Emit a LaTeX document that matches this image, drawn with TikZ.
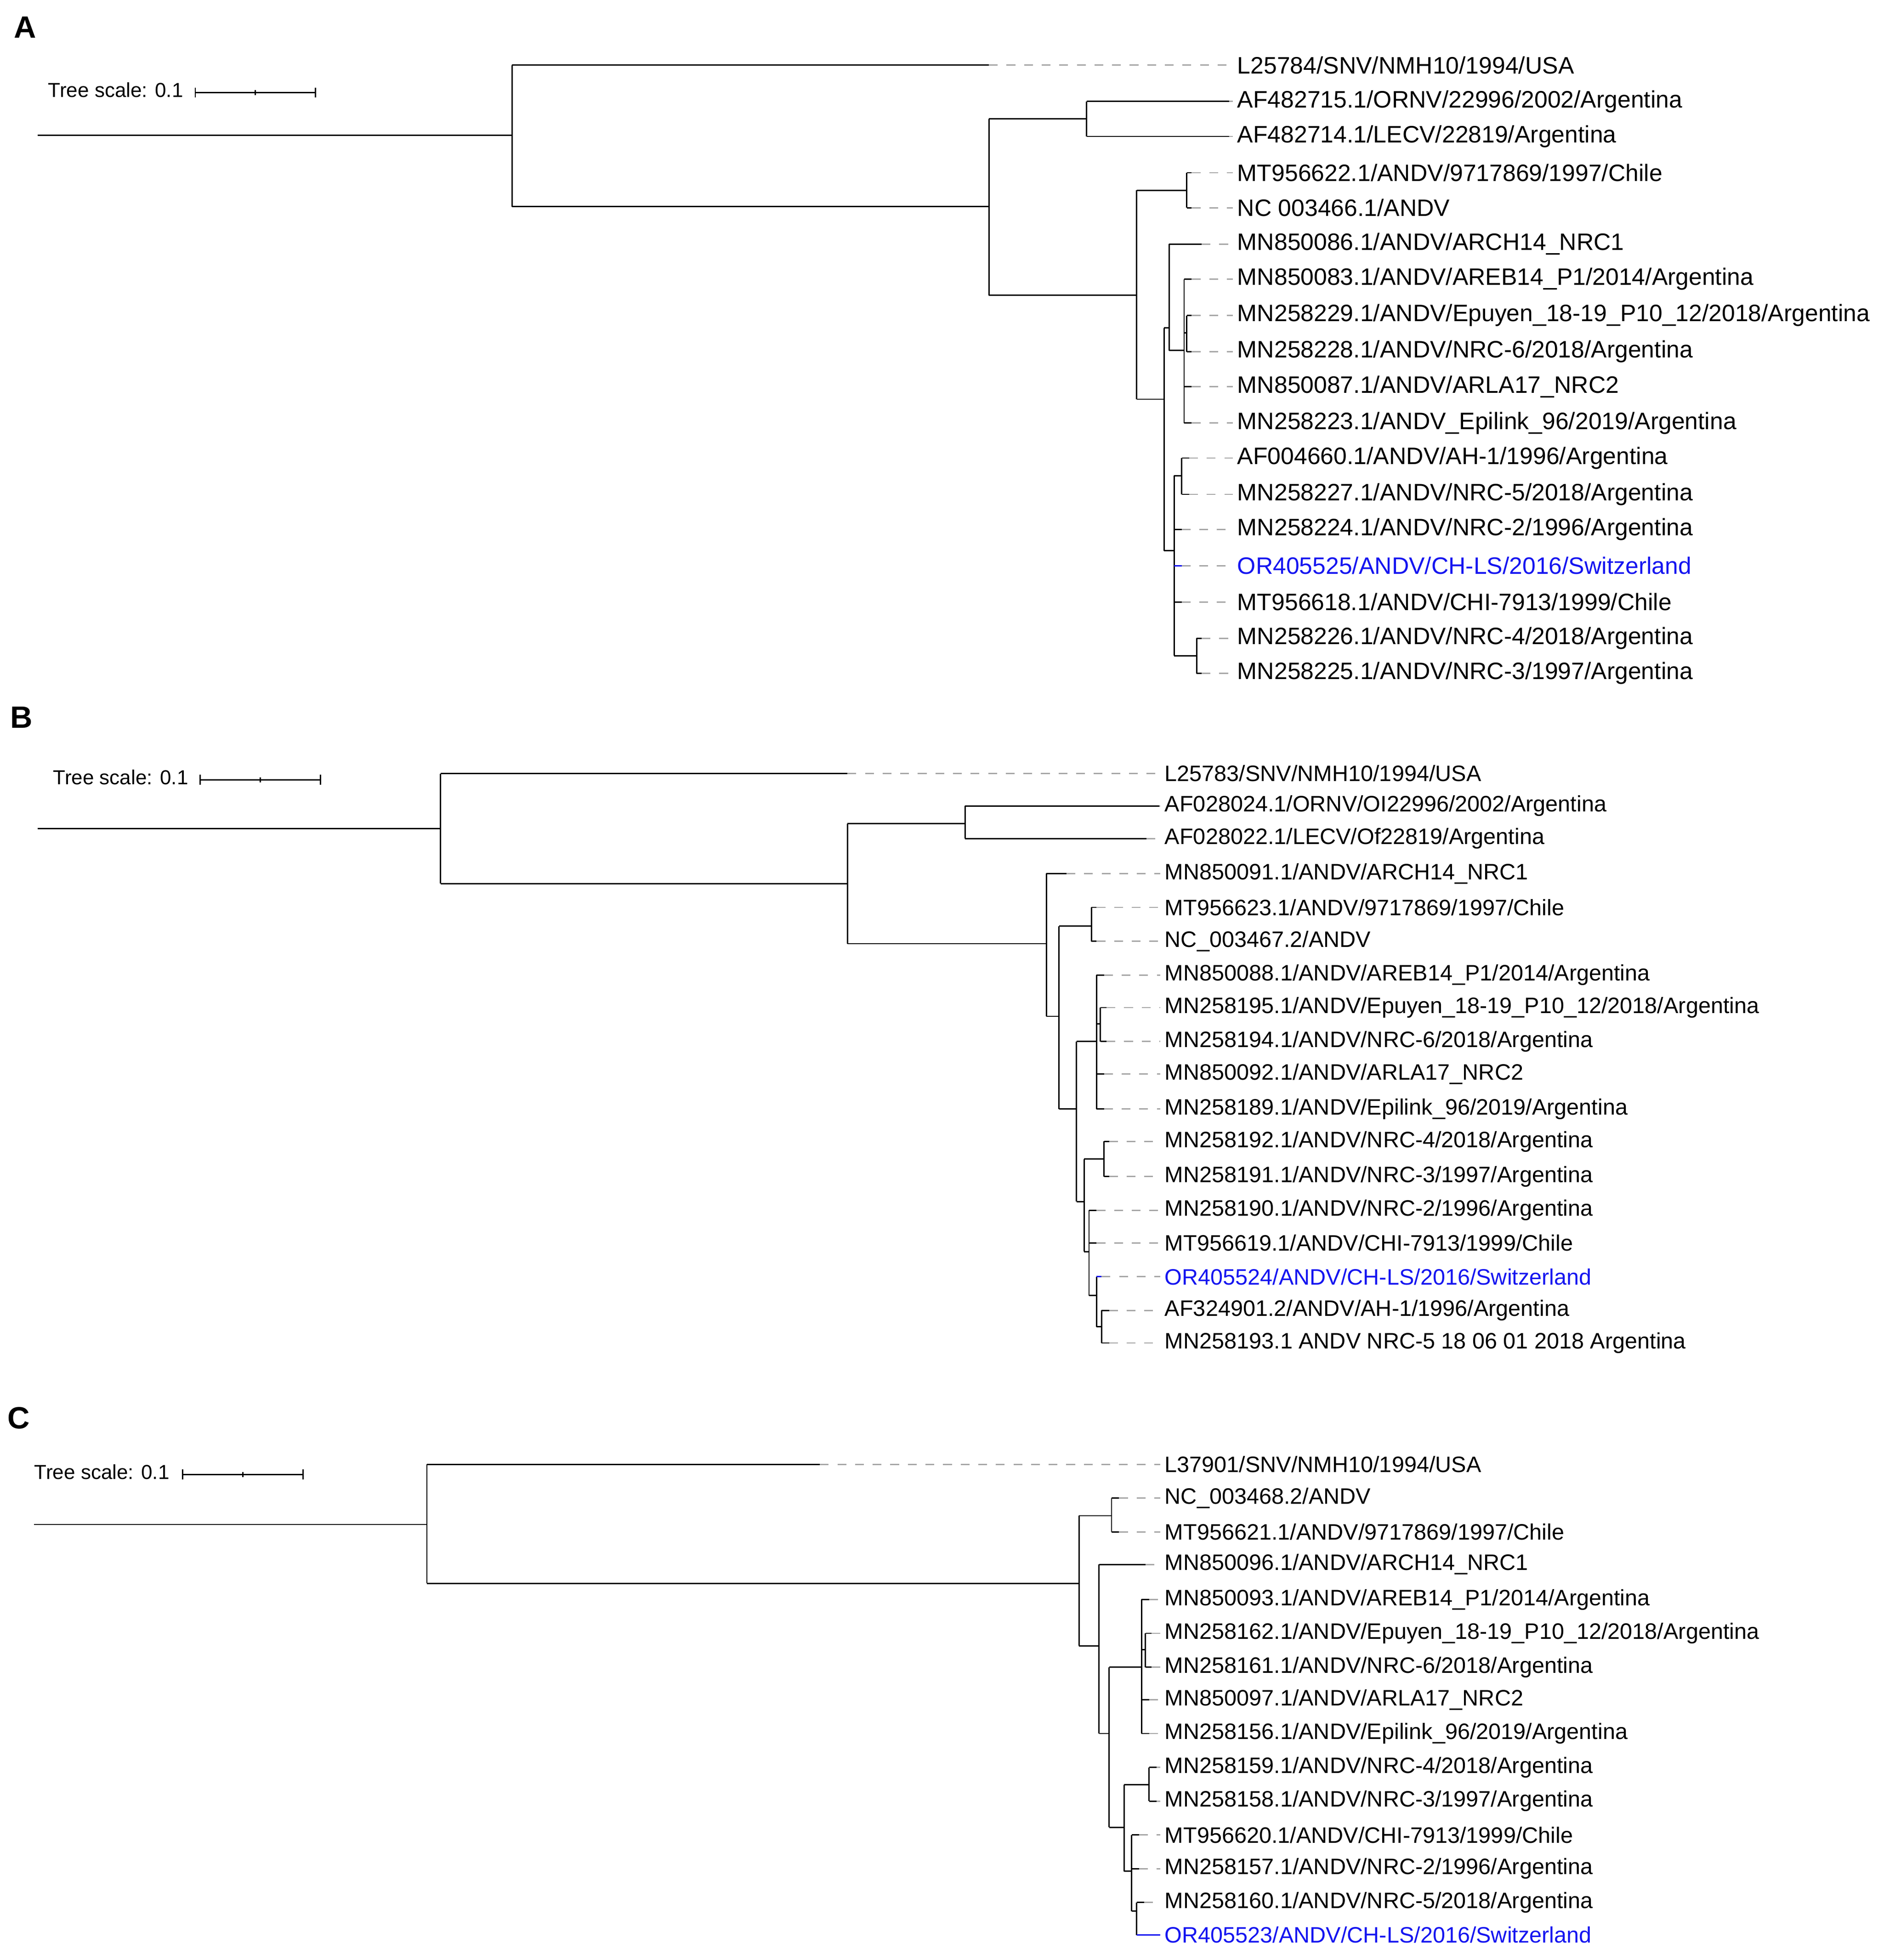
\documentclass[tikz,border=0pt]{standalone}
\usepackage{fontspec}
\setmainfont{Liberation Sans}
\definecolor{lblue}{RGB}{20,20,240}
\begin{document}
\begin{tikzpicture}[x=0.02cm,y=-0.02cm,line width=0.6pt,
  br/.style={draw=black},
  dl/.style={draw=gray!70,dashed,dash pattern=on 4pt off 4pt},
  lab/.style={anchor=west,inner sep=0pt,font=\fontsize{10.15}{12}\selectfont},
  labA/.style={anchor=west,inner sep=0pt,font=\fontsize{10.8}{12}\selectfont},
  panel/.style={anchor=center,font=\bfseries\fontsize{14}{16}\selectfont},
  scl/.style={anchor=west,inner sep=0pt,font=\fontsize{9.2}{11}\selectfont}]
\useasboundingbox (0,0) rectangle (1500,1566);
\newcommand{\lf}[7]{\draw[br,#7] (#1,#3) -- (#2,#3); \draw[dl] (#2,#3) -- (#4-3,#3);
  \node[lab,text=#7] (#6) at (#4,#3) {#5};}
\newcommand{\la}[7]{\draw[br,#7] (#1,#3) -- (#2,#3); \draw[dl] (#2,#3) -- (#4-3,#3);
  \node[labA,text=#7] (#6) at (#4,#3) {#5};}
\newcommand{\vt}[3]{\draw[br] (#1,#2) -- (#1,#3);}
\newcommand{\hz}[3]{\draw[br] (#1,#3) -- (#2,#3);}
\newcommand{\sbar}[3]{\draw[br] (#1,#3) -- (#2,#3); \draw[br] (#1,#3-4) -- (#1,#3+4); \draw[br] (#2,#3-4) -- (#2,#3+4); \draw[br] ({(#1+#2)/2},#3-2) -- ({(#1+#2)/2},#3+2);}
% ---------------- A
\node[panel] (pA) at (20,22) {A};
\node[scl] (sA) at (38,72) {Tree scale: 0.1}; \sbar{156}{252}{74}
\hz{30}{409}{108} \vt{409}{52}{165}
\la{409}{790}{52}{988}{L25784/SNV/NMH10/1994/USA}{a1}{black}
\hz{409}{790}{165} \vt{790}{95}{236}
\hz{790}{868}{95} \vt{868}{81}{109}
\la{868}{982}{81}{988}{AF482715.1/ORNV/22996/2002/Argentina}{a2}{black}
\la{868}{982}{109}{988}{AF482714.1/LECV/22819/Argentina}{a3}{black}
\hz{790}{908}{236} \vt{908}{152}{319}
\hz{908}{948}{152} \vt{948}{138}{166}
\la{948}{952}{138}{988}{MT956622.1/ANDV/9717869/1997/Chile}{a4}{black}
\la{948}{952}{166}{988}{NC 003466.1/ANDV}{a5}{black}
\hz{908}{930}{319} \vt{930}{262}{440}
\hz{930}{934}{262} \vt{934}{195}{280}
\la{934}{960}{195}{988}{MN850086.1/ANDV/ARCH14\_NRC1}{a6}{black}
\hz{934}{946}{280} \vt{946}{223}{338}
\la{946}{952}{223}{988}{MN850083.1/ANDV/AREB14\_P1/2014/Argentina}{a7}{black}
\hz{946}{948}{266} \vt{948}{252}{281}
\la{948}{952}{252}{988}{MN258229.1/ANDV/Epuyen\_18-19\_P10\_12/2018/Argentina}{a8}{black}
\la{948}{952}{281}{988}{MN258228.1/ANDV/NRC-6/2018/Argentina}{a9}{black}
\la{946}{952}{309}{988}{MN850087.1/ANDV/ARLA17\_NRC2}{a10}{black}
\la{946}{952}{338}{988}{MN258223.1/ANDV\_Epilink\_96/2019/Argentina}{a11}{black}
\hz{930}{938}{440} \vt{938}{380}{524}
\hz{938}{944}{380} \vt{944}{366}{395}
\la{944}{950}{366}{988}{AF004660.1/ANDV/AH-1/1996/Argentina}{a12}{black}
\la{944}{950}{395}{988}{MN258227.1/ANDV/NRC-5/2018/Argentina}{a13}{black}
\la{938}{944}{423}{988}{MN258224.1/ANDV/NRC-2/1996/Argentina}{a14}{black}
\la{938}{944}{452}{988}{OR405525/ANDV/CH-LS/2016/Switzerland}{a15}{lblue}
\la{938}{944}{481}{988}{MT956618.1/ANDV/CHI-7913/1999/Chile}{a16}{black}
\hz{938}{956}{524} \vt{956}{510}{538}
\la{956}{960}{510}{988}{MN258226.1/ANDV/NRC-4/2018/Argentina}{a17}{black}
\la{956}{960}{538}{988}{MN258225.1/ANDV/NRC-3/1997/Argentina}{a18}{black}
% ---------------- B
\node[panel] (pB) at (17,573) {B};
\node[scl] (sB) at (42,621) {Tree scale: 0.1}; \sbar{160}{256}{623}
\hz{30}{352}{662} \vt{352}{618}{706}
\lf{352}{677}{618}{930}{L25783/SNV/NMH10/1994/USA}{b1}{black}
\hz{352}{677}{706} \vt{677}{658}{754}
\hz{677}{771}{658} \vt{771}{644}{670}
\lf{771}{926}{644}{930}{AF028024.1/ORNV/OI22996/2002/Argentina}{b2}{black}
\lf{771}{916}{670}{930}{AF028022.1/LECV/Of22819/Argentina}{b3}{black}
\hz{677}{836}{754} \vt{836}{698}{812}
\lf{836}{852}{698}{930}{MN850091.1/ANDV/ARCH14\_NRC1}{b4}{black}
\hz{836}{846}{812} \vt{846}{740}{886}
\hz{846}{872}{740} \vt{872}{725}{752}
\lf{872}{876}{725}{930}{MT956623.1/ANDV/9717869/1997/Chile}{b5}{black}
\lf{872}{876}{752}{930}{NC\_003467.2/ANDV}{b6}{black}
\hz{846}{860}{886} \vt{860}{832}{960}
\hz{860}{876}{832} \vt{876}{779}{886}
\lf{876}{882}{779}{930}{MN850088.1/ANDV/AREB14\_P1/2014/Argentina}{b7}{black}
\hz{876}{879}{818} \vt{879}{805}{832}
\lf{879}{884}{805}{930}{MN258195.1/ANDV/Epuyen\_18-19\_P10\_12/2018/Argentina}{b8}{black}
\lf{879}{884}{832}{930}{MN258194.1/ANDV/NRC-6/2018/Argentina}{b9}{black}
\lf{876}{882}{858}{930}{MN850092.1/ANDV/ARLA17\_NRC2}{b10}{black}
\lf{876}{882}{886}{930}{MN258189.1/ANDV/Epilink\_96/2019/Argentina}{b11}{black}
\hz{860}{866}{960} \vt{866}{926}{1000}
\hz{866}{882}{926} \vt{882}{912}{940}
\lf{882}{886}{912}{930}{MN258192.1/ANDV/NRC-4/2018/Argentina}{b12}{black}
\lf{882}{886}{940}{930}{MN258191.1/ANDV/NRC-3/1997/Argentina}{b13}{black}
\hz{866}{870}{1000} \vt{870}{967}{1035}
\lf{870}{876}{967}{930}{MN258190.1/ANDV/NRC-2/1996/Argentina}{b14}{black}
\lf{870}{876}{993}{930}{MT956619.1/ANDV/CHI-7913/1999/Chile}{b15}{black}
\hz{870}{876}{1035} \vt{876}{1020}{1060}
\lf{876}{880}{1020}{930}{OR405524/ANDV/CH-LS/2016/Switzerland}{b16}{lblue}
\hz{876}{880}{1060} \vt{880}{1047}{1073}
\lf{880}{886}{1047}{930}{AF324901.2/ANDV/AH-1/1996/Argentina}{b17}{black}
\lf{880}{886}{1073}{930}{MN258193.1 ANDV NRC-5 18 06 01 2018 Argentina}{b18}{black}
% ---------------- C
\node[panel] (pC) at (15,1133) {C};
\node[scl] (sC) at (27,1176) {Tree scale: 0.1}; \sbar{146}{242}{1178}
\hz{27}{341}{1218} \vt{341}{1170}{1265}
\lf{341}{655}{1170}{930}{L37901/SNV/NMH10/1994/USA}{c1}{black}
\hz{341}{862}{1265} \vt{862}{1211}{1315}
\hz{862}{888}{1211} \vt{888}{1197}{1224}
\lf{888}{894}{1197}{930}{NC\_003468.2/ANDV}{c2}{black}
\lf{888}{894}{1224}{930}{MT956621.1/ANDV/9717869/1997/Chile}{c3}{black}
\hz{862}{878}{1315} \vt{878}{1250}{1385}
\lf{878}{915}{1250}{930}{MN850096.1/ANDV/ARCH14\_NRC1}{c4}{black}
\hz{878}{886}{1385} \vt{886}{1332}{1460}
\hz{886}{912}{1332} \vt{912}{1278}{1385}
\lf{912}{918}{1278}{930}{MN850093.1/ANDV/AREB14\_P1/2014/Argentina}{c5}{black}
\hz{912}{915}{1318} \vt{915}{1305}{1332}
\lf{915}{920}{1305}{930}{MN258162.1/ANDV/Epuyen\_18-19\_P10\_12/2018/Argentina}{c6}{black}
\lf{915}{920}{1332}{930}{MN258161.1/ANDV/NRC-6/2018/Argentina}{c7}{black}
\lf{912}{918}{1358}{930}{MN850097.1/ANDV/ARLA17\_NRC2}{c8}{black}
\lf{912}{918}{1385}{930}{MN258156.1/ANDV/Epilink\_96/2019/Argentina}{c9}{black}
\hz{886}{898}{1460} \vt{898}{1426}{1495}
\hz{898}{918}{1426} \vt{918}{1412}{1439}
\lf{918}{924}{1412}{930}{MN258159.1/ANDV/NRC-4/2018/Argentina}{c10}{black}
\lf{918}{924}{1439}{930}{MN258158.1/ANDV/NRC-3/1997/Argentina}{c11}{black}
\hz{898}{904}{1495} \vt{904}{1466}{1527}
\lf{904}{910}{1466}{930}{MT956620.1/ANDV/CHI-7913/1999/Chile}{c12}{black}
\lf{904}{910}{1493}{930}{MN258157.1/ANDV/NRC-2/1996/Argentina}{c13}{black}
\hz{904}{908}{1527} \vt{908}{1520}{1546}
\lf{908}{914}{1520}{930}{MN258160.1/ANDV/NRC-5/2018/Argentina}{c14}{black}
\draw[draw=lblue] (908,1546) -- (927,1546);
\node[lab,text=lblue] (c15) at (930,1546) {OR405523/ANDV/CH-LS/2016/Switzerland};
\end{tikzpicture}
\end{document}
